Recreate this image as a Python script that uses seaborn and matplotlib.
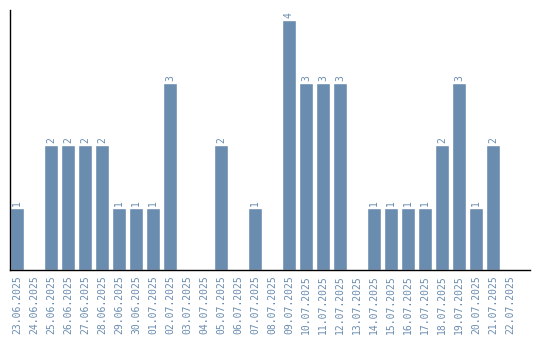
import matplotlib
matplotlib.use("Agg")
import matplotlib.pyplot as plt
import seaborn as sns
import pandas as pd

dates = ["23.06.2025", "24.06.2025", "25.06.2025", "26.06.2025", "27.06.2025",
         "28.06.2025", "29.06.2025", "30.06.2025", "01.07.2025", "02.07.2025",
         "03.07.2025", "04.07.2025", "05.07.2025", "06.07.2025", "07.07.2025",
         "08.07.2025", "09.07.2025", "10.07.2025", "11.07.2025", "12.07.2025",
         "13.07.2025", "14.07.2025", "15.07.2025", "16.07.2025", "17.07.2025",
         "18.07.2025", "19.07.2025", "20.07.2025", "21.07.2025", "22.07.2025"]
counts = [1, 0, 2, 2, 2, 2, 1, 1, 1, 3,
          0, 0, 2, 0, 1, 0, 4, 3, 3, 3,
          0, 1, 1, 1, 1, 2, 3, 1, 2, 0]

color = "#6a8caf"
sns.set_style("white")
plt.rcParams['font.family'] = ['DejaVu Sans Mono', 'DejaVu Sans']

df = pd.DataFrame({"date": dates, "count": counts})
fig = plt.figure(figsize=(5.4, 3.4), dpi=100)
ax = fig.add_axes([10/540, 70/340, 520/540, 260/340])
sns.barplot(data=df, x="date", y="count", color=color, saturation=1, width=0.82, ax=ax)

for i, v in enumerate(counts):
    if v > 0:
        ax.text(i, v + 0.03, str(v), rotation=90, ha="center", va="bottom",
                color=color, fontsize=7)

ax.set_xlim(-0.41, 30.18)
ax.set_ylim(0, 4.16)
ax.set_xlabel("")
ax.set_ylabel("")
ax.set_yticks([])
ax.tick_params(axis="x", length=0, pad=4, labelsize=7, labelcolor=color, rotation=90)
for s in ["top", "right"]:
    ax.spines[s].set_visible(False)
for s in ["left", "bottom"]:
    ax.spines[s].set_color("black")
    ax.spines[s].set_linewidth(1)

fig.savefig("out.png", dpi=100)
